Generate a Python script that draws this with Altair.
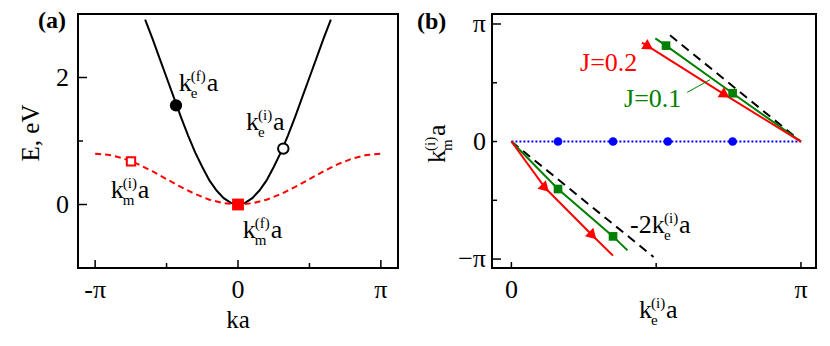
import altair as alt
import pandas as pd

FONT = "Liberation Serif"
RED, GREEN, BLUE, BLACK = "#ff0000", "#008000", "#0000ff", "#000000"

# ---------------- panel (a): E vs ka  (ka in units of pi) ----------------
electron_k = [-0.65, -0.60, -0.55, -0.50, -0.45, -0.40, -0.35, -0.30, -0.25, -0.20, -0.15, -0.10, -0.05, 0.00,
              0.05, 0.10, 0.15, 0.20, 0.25, 0.30, 0.35, 0.40, 0.45, 0.50, 0.55, 0.60, 0.65]
electron_E = [2.91, 2.62, 2.31, 2.00, 1.69, 1.38, 1.09, 0.82, 0.59, 0.38, 0.22, 0.10, 0.025, 0.00,
              0.025, 0.10, 0.22, 0.38, 0.59, 0.82, 1.09, 1.38, 1.69, 2.00, 2.31, 2.62, 2.91]
magnon_k = [-1.0, -0.9, -0.8, -0.7, -0.6, -0.5, -0.4, -0.3, -0.2, -0.1, 0.0,
            0.1, 0.2, 0.3, 0.4, 0.5, 0.6, 0.7, 0.8, 0.9, 1.0]
magnon_E = [0.80, 0.78, 0.724, 0.635, 0.524, 0.40, 0.276, 0.165, 0.076, 0.02, 0.0,
            0.02, 0.076, 0.165, 0.276, 0.40, 0.524, 0.635, 0.724, 0.78, 0.80]

ke_final = (-0.434, 1.56)     # filled black circle
ke_init = (0.317, 0.88)       # open black circle
km_final = (0.0, 0.0)         # filled red square
km_init = (-0.749, 0.68)      # open red square

label_a_x = [-0.415, 0.056, -0.890, 0.033]
label_a_y = [1.78, 1.18, 0.10, -0.53]
label_a_sub = ["e", "e", "m", "m"]
label_a_sup = ["(f)", "(i)", "(i)", "(f)"]

xa_tick_values = [-1, 0, 1]
xa_tick_labels = ["-π", "0", "π"]
ya_tick_values = [0, 2]
ya_tick_labels = ["0", "2"]

# ---------------- panel (b): k_m(i) vs k_e(i) (units of pi) ----------------
green_low_x = [0.0, 0.161, 0.351, 0.401]
green_low_y = [0.0, -0.404, -0.807, -0.926]
green_up_x = [0.497, 0.534, 0.764, 1.0]
green_up_y = [0.878, 0.816, 0.411, 0.0]
red_low_x = [0.0, 0.117, 0.281, 0.351]
red_low_y = [0.0, -0.396, -0.801, -0.971]
red_up_x = [0.451, 0.474, 0.738, 1.0]
red_up_y = [0.841, 0.807, 0.397, 0.0]
dash_low_x = [0.0, 0.491]
dash_low_y = [0.0, -0.982]
dash_up_x = [0.548, 1.0]
dash_up_y = [0.904, 0.0]
blue_line_x = [0.0, 1.0]
blue_line_y = [0.0, 0.0]
blue_dot_x = [0.161, 0.351, 0.540, 0.764]
green_sq_x = [0.161, 0.351, 0.534, 0.764]
green_sq_y = [-0.404, -0.807, 0.816, 0.411]
red_tri_x = [0.117, 0.281, 0.474, 0.738]
red_tri_y = [-0.396, -0.801, 0.807, 0.397]
red_tri_angle = [45, 45, 32, 32]
leader_x = [0.607, 0.686]
leader_y = [0.418, 0.526]

xb_tick_values = [0, 1]
xb_tick_labels = ["0", "π"]
yb_tick_values = [-1, 0, 1]
yb_tick_labels = ["−π", "0", "π"]

XA_DOM = [-1.12, 1.12]
YA_DOM = [-1.0, 3.0]
XB_DOM = [-0.067, 1.052]
YB_DOM = [-1.076, 1.085]
WA, WB, H = 320, 324, 254


def xa(field="x"):
    return alt.X(f"{field}:Q", scale=alt.Scale(domain=XA_DOM, nice=False, zero=False), axis=None)


def ya(field="y"):
    return alt.Y(f"{field}:Q", scale=alt.Scale(domain=YA_DOM, nice=False, zero=False), axis=None)


def xb(field="x"):
    return alt.X(f"{field}:Q", scale=alt.Scale(domain=XB_DOM, nice=False, zero=False), axis=None)


def yb(field="y"):
    return alt.Y(f"{field}:Q", scale=alt.Scale(domain=YB_DOM, nice=False, zero=False), axis=None)


def sub_sup(data, x, y, head, sub, sup, tail, color=BLACK, size=26, small=15,
            sub_dx=12, tail_dx=28, sub_dy=7, sup_dy=-10, angle=0):
    base = alt.Chart(data)
    common = dict(font=FONT, color=color, align="left", baseline="alphabetic", angle=angle)
    return [
        base.mark_text(text=head, fontSize=size, **common).encode(x=x, y=y),
        base.mark_text(text=sub, fontSize=small, dx=sub_dx, dy=sub_dy, **common).encode(x=x, y=y),
        base.mark_text(text=sup, fontSize=small, dx=sub_dx, dy=sup_dy, **common).encode(x=x, y=y),
        base.mark_text(text=tail, fontSize=size, dx=tail_dx, **common).encode(x=x, y=y),
    ]


def plain_text(txt, px, py, size=25, bold=False, angle=0, align="left", color=BLACK):
    return alt.Chart(pd.DataFrame({"t": [txt]})).mark_text(
        text=txt, font=FONT, fontSize=size, fontWeight="bold" if bold else "normal",
        angle=angle, align=align, baseline="alphabetic", color=color
    ).encode(x=alt.value(px), y=alt.value(py))


def frame(xdom, ydom, xenc_fn, yenc_fn):
    # closed box through the panel's own scales, along the ends of its domains
    box = pd.DataFrame({
        "fx": [xdom[0], xdom[0], xdom[1], xdom[1], xdom[0]],
        "fy": [ydom[0], ydom[1], ydom[1], ydom[0], ydom[0]],
        "o": [0, 1, 2, 3, 4],
    })
    return alt.Chart(box).mark_line(color=BLACK, strokeWidth=2, strokeCap="square").encode(
        x=xenc_fn("fx"), y=yenc_fn("fy"), order="o:Q")


def ticks_x(values, xenc_fn, length):
    return alt.Chart(pd.DataFrame({"t": values})).mark_rule(color=BLACK, strokeWidth=1.5).encode(
        x=xenc_fn("t"), y=alt.value(H), y2=alt.value(H - length))


def ticks_y(values, yenc_fn, length):
    return alt.Chart(pd.DataFrame({"t": values})).mark_rule(color=BLACK, strokeWidth=1.5).encode(
        y=yenc_fn("t"), x=alt.value(0), x2=alt.value(length))


def labels_x(values, labels, xenc_fn, py):
    return alt.Chart(pd.DataFrame({"t": values, "lab": labels})).mark_text(
        font=FONT, fontSize=26, color=BLACK, align="center", baseline="alphabetic").encode(
        x=xenc_fn("t"), y=alt.value(py), text="lab:N")


def labels_y(values, labels, yenc_fn, px):
    return alt.Chart(pd.DataFrame({"t": values, "lab": labels})).mark_text(
        font=FONT, fontSize=26, color=BLACK, align="right", baseline="middle").encode(
        y=yenc_fn("t"), x=alt.value(px), text="lab:N")


# ---------------- build panel (a) ----------------
df_e = pd.DataFrame({"x": electron_k, "y": electron_E})
df_m = pd.DataFrame({"x": magnon_k, "y": magnon_E})

electron_line = alt.Chart(df_e).mark_line(color=BLACK, strokeWidth=2).encode(x=xa(), y=ya(), order="x:Q")
magnon_line = alt.Chart(df_m).mark_line(color=RED, strokeWidth=2, strokeDash=[6, 4]).encode(
    x=xa(), y=ya(), order="x:Q")


def pt(p):
    return pd.DataFrame({"x": [p[0]], "y": [p[1]]})


m1 = alt.Chart(pt(ke_final)).mark_point(shape="circle", filled=True, color=BLACK, size=150, opacity=1).encode(x=xa(), y=ya())
m2 = alt.Chart(pt(ke_init)).mark_point(shape="circle", filled=True, fill="white", stroke=BLACK, strokeWidth=2,
                                       size=110, opacity=1).encode(x=xa(), y=ya())
m3 = alt.Chart(pt(km_final)).mark_point(shape="square", filled=True, color=RED, size=140, opacity=1).encode(x=xa(), y=ya())
m4 = alt.Chart(pt(km_init)).mark_point(shape="square", filled=True, fill="white", stroke=RED, strokeWidth=2,
                                       size=70, opacity=1).encode(x=xa(), y=ya())

labels_a = []
for lx, ly, sb, sp in zip(label_a_x, label_a_y, label_a_sub, label_a_sup):
    labels_a += sub_sup(pd.DataFrame({"x": [lx], "y": [ly]}), xa(), ya(), "k", sb, sp, "a",
                        tail_dx=28 if sp == "(f)" else 27)

panel_a = alt.layer(
    electron_line, magnon_line, m1, m2, m3, m4,
    ticks_x([-1, 0, 1], xa, 8), ticks_x([-0.5, 0.5], xa, 5),
    ticks_y([0, 2], ya, 9), ticks_y([1], ya, 5),
    frame(XA_DOM, YA_DOM, xa, ya),
    labels_x(xa_tick_values, xa_tick_labels, xa, H + 30),
    labels_y(ya_tick_values, ya_tick_labels, ya, -9),
    *labels_a,
    plain_text("(a)", -40, 14, size=24, bold=True),
    plain_text("E, eV", -39.5, 119, size=25, angle=270, align="center"),
    plain_text("ka", 160, 314, size=25, align="center"),
).properties(width=WA, height=H)

# ---------------- build panel (b) ----------------
def branches(lx, ly, ux, uy):
    return pd.DataFrame({"x": lx + ux, "y": ly + uy,
                         "branch": ["low"] * len(lx) + ["up"] * len(ux)})


blue_line = alt.Chart(pd.DataFrame({"x": blue_line_x, "y": blue_line_y})).mark_line(
    color=BLUE, strokeWidth=2, strokeDash=[2, 2]).encode(x=xb(), y=yb())
blue_dots = alt.Chart(pd.DataFrame({"x": blue_dot_x, "y": [0.0] * len(blue_dot_x)})).mark_point(
    shape="circle", filled=True, color=BLUE, size=75, opacity=1).encode(x=xb(), y=yb())
dash_lines = alt.Chart(branches(dash_low_x, dash_low_y, dash_up_x, dash_up_y)).mark_line(
    color=BLACK, strokeWidth=2, strokeDash=[9, 6]).encode(x=xb(), y=yb(), detail="branch:N", order="x:Q")
green_lines = alt.Chart(branches(green_low_x, green_low_y, green_up_x, green_up_y)).mark_line(
    color=GREEN, strokeWidth=2).encode(x=xb(), y=yb(), detail="branch:N", order="x:Q")
red_lines = alt.Chart(branches(red_low_x, red_low_y, red_up_x, red_up_y)).mark_line(
    color=RED, strokeWidth=2).encode(x=xb(), y=yb(), detail="branch:N", order="x:Q")
green_sq = alt.Chart(pd.DataFrame({"x": green_sq_x, "y": green_sq_y})).mark_point(
    shape="square", filled=True, color=GREEN, size=75, opacity=1).encode(x=xb(), y=yb())
red_tri = alt.Chart(pd.DataFrame({"x": red_tri_x, "y": red_tri_y, "a": red_tri_angle})).mark_point(
    shape="triangle-right", filled=True, color=RED, size=140, opacity=1).encode(
    x=xb(), y=yb(), angle=alt.Angle("a:Q", scale=None))
leader = alt.Chart(pd.DataFrame({"x": [leader_x[0]], "x2": [leader_x[1]],
                                 "y": [leader_y[0]], "y2": [leader_y[1]]})).mark_rule(
    color=GREEN, strokeWidth=1).encode(x=xb("x"), x2="x2:Q", y=yb("y"), y2="y2:Q")

j_labels = [
    alt.Chart(pd.DataFrame({"x": [0.237], "y": [0.60]})).mark_text(
        text="J=0.2", font=FONT, fontSize=26, color=RED, align="left", baseline="alphabetic").encode(x=xb(), y=yb()),
    alt.Chart(pd.DataFrame({"x": [0.389], "y": [0.295]})).mark_text(
        text="J=0.1", font=FONT, fontSize=26, color=GREEN, align="left", baseline="alphabetic").encode(x=xb(), y=yb()),
]
slope_label = sub_sup(pd.DataFrame({"x": [0.41], "y": [-0.78]}), xb(), yb(), "-2k", "e", "(i)", "a",
                      sub_dx=34, tail_dx=49)

dummy = pd.DataFrame({"t": [0]})
ytitle_b = sub_sup(dummy, alt.value(-47), alt.value(149), "k", "m", "(i)", "a", angle=270, tail_dx=27)
xtitle_b = sub_sup(dummy, alt.value(147), alt.value(304), "k", "e", "(i)", "a", tail_dx=27)

panel_b = alt.layer(
    blue_line, dash_lines, green_lines, red_lines, blue_dots, green_sq, red_tri, leader,
    ticks_x([0, 1], xb, 6), ticks_x([0.5], xb, 5),
    ticks_y([-1, 1], yb, 9), ticks_y([-0.5, 0, 0.5], yb, 5),
    frame(XB_DOM, YB_DOM, xb, yb),
    labels_x(xb_tick_values, xb_tick_labels, xb, H + 30),
    labels_y(yb_tick_values, yb_tick_labels, yb, -6),
    *j_labels, *slope_label, *ytitle_b, *xtitle_b,
    plain_text("(b)", -75, 15, size=24, bold=True),
).properties(width=WB, height=H)

chart = alt.hconcat(panel_a, panel_b, spacing=15).properties(
    padding={"left": 10, "top": 1, "right": 2, "bottom": 2}, background="white"
).configure_view(strokeWidth=0)

chart.save("out.html", embed_options={"renderer": "svg", "actions": False})
